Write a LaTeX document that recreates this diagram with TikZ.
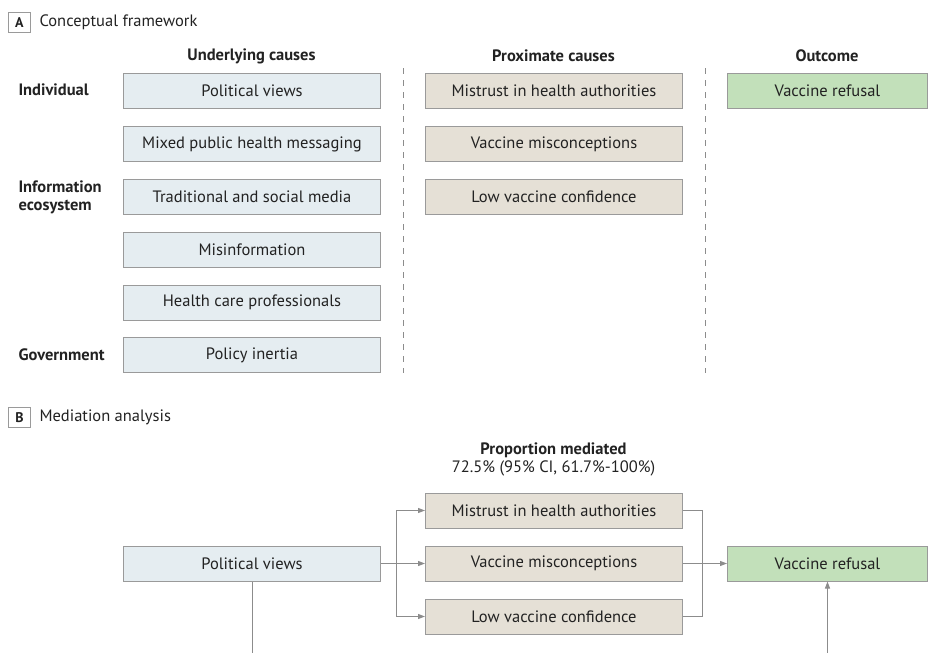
\documentclass[tikz,border=0pt]{standalone}
\usepackage{fontspec}
\setmainfont{PT Sans}
\usetikzlibrary{arrows.meta}
\definecolor{bluefill}{HTML}{E5EDF1}
\definecolor{tanfill}{HTML}{E5E0D6}
\definecolor{greenfill}{HTML}{C2E0BA}
\definecolor{edgegray}{HTML}{9A9A9A}
\definecolor{linegray}{HTML}{8C8C8C}
\definecolor{txt}{HTML}{222222}
\begin{document}
\begin{tikzpicture}[x=1pt,y=-1pt,
  every node/.style={text=txt,font=\fontsize{16.5}{18}\selectfont},
  basebox/.style={draw=edgegray,line width=1pt,minimum height=35pt,inner sep=0pt,anchor=north west},
  ubox/.style={basebox,fill=bluefill,minimum width=257pt},
  pbox/.style={basebox,fill=tanfill,minimum width=257pt},
  obox/.style={basebox,fill=greenfill,minimum width=200pt},
  header/.style={font=\fontsize{16.5}{18}\selectfont\bfseries},
  rowlab/.style={font=\fontsize{16.5}{18}\selectfont\bfseries,anchor=west,align=left},
  panelbox/.style={draw=edgegray,line width=0.8pt,minimum width=22pt,minimum height=20pt,inner sep=0pt,anchor=north west,font=\fontsize{14}{16}\selectfont\bfseries},
  paneltitle/.style={anchor=west,font=\fontsize{16.5}{18}\selectfont},
  sep/.style={draw=linegray,line width=1pt,dash pattern=on 6pt off 6pt},
  conn/.style={draw=linegray,line width=1pt},
  arr/.style={conn,-{Triangle[length=7pt,width=5pt]}}
]
\useasboundingbox (0,0) rectangle (935,653);

% Panel A
\node[panelbox] (pa) at (8,12) {A};
\node[paneltitle] (pat) at (36,22.5) {Conceptual framework};

\node[header] (h1) at (251.5,56) {Underlying causes};
\node[header] (h2) at (553.5,56) {Proximate causes};
\node[header] (h3) at (827,56) {Outcome};

\node[rowlab] (r1) at (15,90) {Individual};
\node[rowlab,text width=110pt] (r2) at (15,197.5) {\baselineskip=18pt Information\\ecosystem};
\node[rowlab] (r3) at (15,354.5) {Government};

\node[ubox] (u1) at (123,73) {Political views};
\node[ubox] (u2) at (123,126) {Mixed public health messaging};
\node[ubox] (u3) at (123,178.5) {Traditional and social media};
\node[ubox] (u4) at (123,231.5) {Misinformation};
\node[ubox] (u5) at (123,284.5) {Health care professionals};
\node[ubox] (u6) at (123,337) {Policy inertia};

\node[pbox] (p1) at (425,73) {Mistrust in health authorities};
\node[pbox] (p2) at (425,126) {Vaccine misconceptions};
\node[pbox] (p3) at (425,178.5) {Low vaccine confidence};

\node[obox] (o1) at (727,73) {Vaccine refusal};

\coordinate (d1t) at (403,68);
\coordinate (d1b) at (403,373);
\coordinate (d2t) at (705,68);
\coordinate (d2b) at (705,373);
\draw[sep] (d1t) -- (d1b);
\draw[sep] (d2t) -- (d2b);

% Panel B
\node[panelbox] (pb) at (8,407) {B};
\node[paneltitle] (pbt) at (36,417) {Mediation analysis};

\node[header] (pmh) at (553.5,450) {Proportion mediated};
\node (pmv) at (553.5,468) {72.5\% (95\% CI, 61.7\%-100\%)};

\node[ubox] (bpv) at (123,545.5) {Political views};
\node[pbox] (bm1) at (425,492.5) {Mistrust in health authorities};
\node[pbox] (bm2) at (425,545.5) {Vaccine misconceptions};
\node[pbox] (bm3) at (425,598.5) {Low vaccine confidence};
\node[obox] (bvr) at (727,545.5) {Vaccine refusal};

\coordinate (lb) at (396,0);
\coordinate (rb) at (702,0);
\coordinate (pvbot) at (bpv.south |- 0,653);
\coordinate (vrbot) at (bvr.south |- 0,653);

\draw[arr] (bpv.east) -- (bm2.west);
\draw[arr] (lb |- bm2.west) |- (bm1.west);
\draw[arr] (lb |- bm2.west) |- (bm3.west);
\draw[conn] (bm1.east) -| (rb |- bm2.east);
\draw[conn] (bm3.east) -| (rb |- bm2.east);
\draw[arr] (bm2.east) -- (bvr.west);
\draw[conn] (bpv.south) -- (pvbot);
\draw[arr] (vrbot) -- (bvr.south);
\end{tikzpicture}
\end{document}
